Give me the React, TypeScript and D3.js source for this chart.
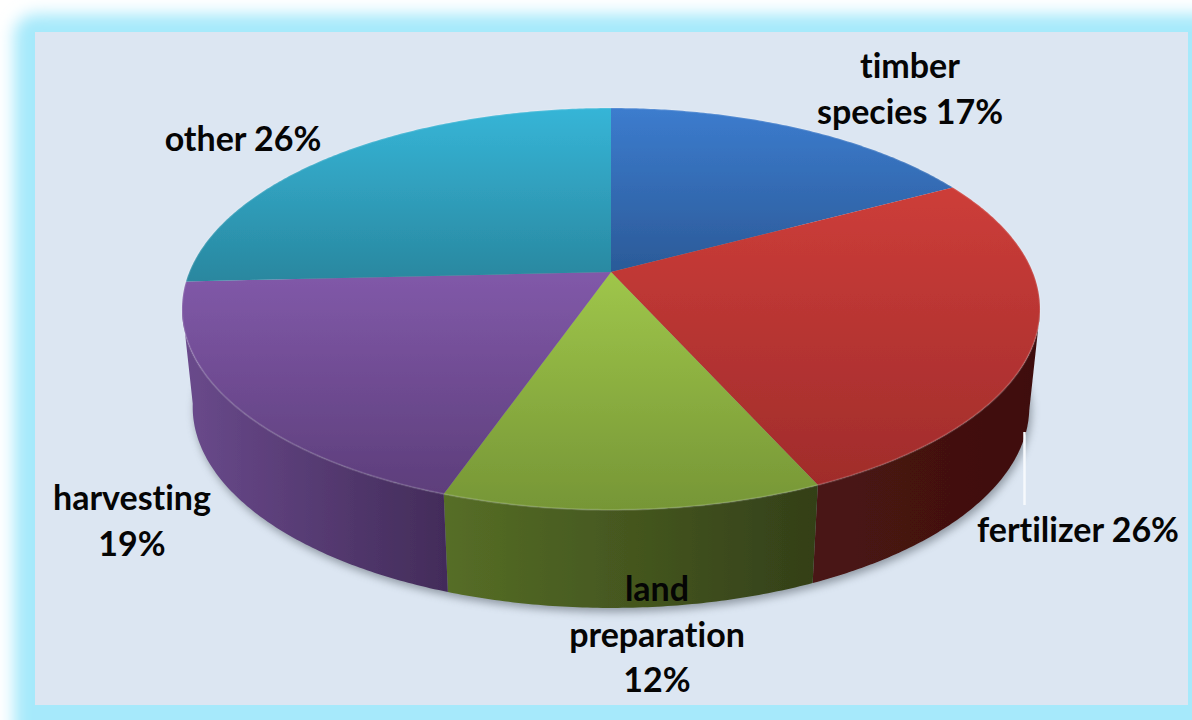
import React from "react";
import * as d3 from "d3";

// Share of each cost item, clockwise from twelve o'clock
const categories = ["timber species", "fertilizer", "land preparation", "harvesting", "other"];
const shares = [17, 26, 12, 19, 26];

const topColors = [
  ["#3c7cce", "#2b5a98"],
  ["#cd3d39", "#a02c2b"],
  ["#9fc64a", "#769636"],
  ["#8159a9", "#5d3e7b"],
  ["#36b5d7", "#29879f"],
];
const sideColors = [
  ["#2b5a98", "#2b5a98"],
  ["#4a1413", "#3e0f0e"],
  ["#566e26", "#333f18"],
  ["#6a4a8c", "#432c5a"],
  ["#29879f", "#29879f"],
];

const labelLines = [
  ["timber", "species 17%"],
  ["fertilizer 26%"],
  ["land", "preparation", "12%"],
  ["harvesting", "19%"],
  ["other 26%"],
];
const labelAnchors: [number, number][] = [
  [910, 78],
  [1078, 542],
  [657, 601],
  [132, 510],
  [243, 151],
];
const LINE_GAP = 45.5;

// Perspective projection of a unit disc onto the page
const CX = 611;
const APEX_Y = 272;
const SPREAD_X = 421.7;
const SPREAD_Y = 144.1;
const TILT = -0.184;
const DEPTH = 98;
const FLOOR_SHRINK = 0.975;
const ANGLE_DRIFT = 0.02;

type Pt = [number, number];

const project = (rawAngle: number, r = 1, floor = false): Pt => {
  // A slight drift of the seams, pinned at twelve o'clock
  const angle = rawAngle + ANGLE_DRIFT * Math.sin(rawAngle / 2);
  const u = r * Math.sin(angle);
  const v = -r * Math.cos(angle);
  const w = 1 + TILT * v;
  const x = (SPREAD_X * u) / w;
  const y = (SPREAD_Y * v + APEX_Y) / w;
  return floor ? [CX + x * FLOOR_SHRINK, y + DEPTH] : [CX + x, y];
};

const arcPoints = (a0: number, a1: number, floor = false): Pt[] => {
  const n = Math.max(2, Math.ceil(Math.abs(a1 - a0) / 0.01));
  return d3.range(n + 1).map((i) => project(a0 + ((a1 - a0) * i) / n, 1, floor));
};

const line = d3.line<Pt>().x((d) => d[0]).y((d) => d[1]);
const closed = (pts: Pt[]) => `${line(pts)}Z`;

const slices = d3.pie<number>().sort(null).value((d) => d)(shares);

// The front wall is only seen between the two silhouette tangents
const frontStart = Math.PI / 2 + Math.asin(-TILT);
const frontEnd = (3 * Math.PI) / 2 - Math.asin(-TILT);

const wholeTop = closed(arcPoints(0, 2 * Math.PI));
const wholeFloor = closed(arcPoints(0, 2 * Math.PI, true));

export default function App() {
  return (
    <svg
      width={1192}
      height={720}
      style={{ position: "absolute", left: 0, top: 0, display: "block" }}
      fontFamily="Lato, 'Open Sans', sans-serif"
    >
      <defs>
        <filter id="glow" x="-10%" y="-10%" width="120%" height="120%">
          <feGaussianBlur stdDeviation="8" />
        </filter>
        <filter id="dropShadow" x="-10%" y="-10%" width="120%" height="130%">
          <feGaussianBlur stdDeviation="4" />
        </filter>
        <filter id="soft" x="-5%" y="-5%" width="110%" height="110%">
          <feGaussianBlur stdDeviation="0.7" />
        </filter>
        {slices.map((s, i) => {
          const pts = [project(s.startAngle), project(s.endAngle), project((s.startAngle + s.endAngle) / 2)];
          const ys = pts.map((p) => p[1]).concat(APEX_Y);
          return (
            <linearGradient
              key={i}
              id={`top${i}`}
              gradientUnits="userSpaceOnUse"
              x1={0}
              x2={0}
              y1={d3.min(ys)}
              y2={d3.max(ys)}
            >
              <stop offset="0" stopColor={topColors[i][0]} />
              <stop offset="1" stopColor={topColors[i][1]} />
            </linearGradient>
          );
        })}
        {slices.map((s, i) => {
          const a0 = Math.max(s.startAngle, frontStart);
          const a1 = Math.min(s.endAngle, frontEnd);
          if (a0 >= a1) return null;
          const [xa] = project(a0);
          const [xb] = project(a1);
          return (
            <linearGradient
              key={i}
              id={`side${i}`}
              gradientUnits="userSpaceOnUse"
              x1={Math.min(xa, xb)}
              x2={Math.max(xa, xb)}
              y1={0}
              y2={0}
            >
              <stop offset="0" stopColor={sideColors[i][0]} />
              <stop offset="1" stopColor={sideColors[i][1]} />
            </linearGradient>
          );
        })}
      </defs>

      {/* Page frame: cyan glow around the pale panel */}
      <rect width={1192} height={720} fill="#ffffff" />
      <rect x={14} y={14} width={1300} height={800} rx={22} fill="#a6e9fb" filter="url(#glow)" />
      <rect x={35} y={32} width={1153} height={673} fill="#dce6f2" />

      {/* Soft shadow under the disc */}
      <path d={wholeFloor} fill="#5d6670" opacity={0.6} filter="url(#dropShadow)" transform="translate(2,4)" />

      {/* Front wall */}
      <g filter="url(#soft)">
        {slices.map((s, i) => {
          const a0 = Math.max(s.startAngle, frontStart);
          const a1 = Math.min(s.endAngle, frontEnd);
          if (a0 >= a1) return null;
          return (
            <path
              key={categories[i]}
              d={closed([...arcPoints(a0, a1), ...arcPoints(a1, a0, true)])}
              fill={`url(#side${i})`}
            />
          );
        })}
      </g>

      {/* Top face */}
      <g filter="url(#soft)">
        {slices.map((s, i) => (
          <path
            key={categories[i]}
            d={closed([[CX, APEX_Y], ...arcPoints(s.startAngle, s.endAngle)])}
            fill={`url(#top${i})`}
          />
        ))}
      </g>
      <path d={wholeTop} fill="none" stroke="#ffffff" strokeOpacity={0.14} strokeWidth={2} filter="url(#soft)" />

      {/* Leader line of the fertilizer label */}
      <line x1={1024.5} x2={1024.5} y1={432} y2={505} stroke="#f6f9fc" strokeWidth={2.5} />

      {/* Labels */}
      {labelLines.map((lines, i) => (
        <text
          key={categories[i]}
          textAnchor="middle"
          fontSize={34}
          fontWeight={700}
          fill="#050505"
          style={{ fontVariantLigatures: "none" }}
          x={labelAnchors[i][0]}
          y={labelAnchors[i][1]}
        >
          {lines.map((t, j) => (
            <tspan key={t} x={labelAnchors[i][0]} dy={j === 0 ? 0 : LINE_GAP}>
              {t}
            </tspan>
          ))}
        </text>
      ))}
    </svg>
  );
}
